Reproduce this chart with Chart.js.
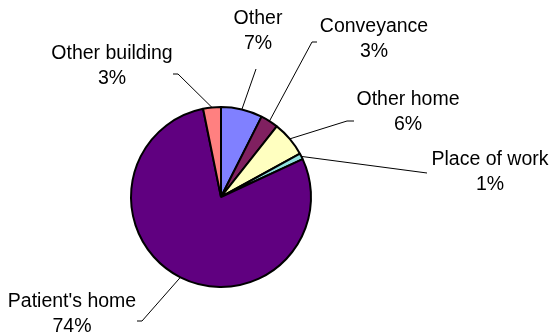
<!DOCTYPE html>
<html>
<head>
<meta charset="utf-8">
<script src="https://cdn.jsdelivr.net/npm/chart.js@4.4.1/dist/chart.umd.min.js"></script>
<style>
  html, body { margin: 0; padding: 0; background: #fff; }
  #wrap { position: relative; width: 553px; height: 335px; }
</style>
</head>
<body>
<div id="wrap"><canvas id="pie"></canvas></div>
<script>
// place where the incident happened, share in percent
const categories = ['Other', 'Conveyance', 'Other home', 'Place of work', "Patient's home", 'Other building'];
const shares = [7, 3, 6, 1, 74, 3];
const sliceColors = ['#8080ff', '#802060', '#ffffc0', '#90e0e0', '#600080', '#ff8080'];

// where each label sits: text centre x, first baseline y, elbow of the leader, hook end x
const labelSpots = [
  { tx: 258, ty: 24,  ex: 256, ey: 69,  hx: 256 },
  { tx: 374, ty: 32,  ex: 312, ey: 42,  hx: 317 },
  { tx: 408, ty: 105, ex: 347, ey: 121, hx: 354 },
  { tx: 490, ty: 165, ex: 427, ey: 173, hx: 427 },
  { tx: 72,  ty: 307, ex: 142, ey: 321, hx: 137 },
  { tx: 112, ty: 59,  ex: 178, ey: 74,  hx: 173 }
];

const outsideLabels = {
  id: 'outsideLabels',
  afterDatasetsDraw(chart) {
    const ctx = chart.ctx;
    const meta = chart.getDatasetMeta(0);
    ctx.save();
    ctx.font = '19.5px "Liberation Sans", Arial, sans-serif';
    ctx.textAlign = 'center';
    ctx.textBaseline = 'alphabetic';
    meta.data.forEach((arc, i) => {
      const p = arc.getProps(['x', 'y', 'startAngle', 'endAngle', 'outerRadius'], true);
      const mid = (p.startAngle + p.endAngle) / 2;
      const sx = p.x + Math.cos(mid) * p.outerRadius;
      const sy = p.y + Math.sin(mid) * p.outerRadius;
      const s = labelSpots[i];

      ctx.strokeStyle = '#000';
      ctx.lineWidth = 1;
      ctx.beginPath();
      ctx.moveTo(sx, sy);
      ctx.lineTo(s.ex, s.ey);
      ctx.lineTo(s.hx, s.ey);
      ctx.stroke();

      ctx.fillStyle = '#000';
      ctx.fillText(categories[i], s.tx, s.ty);
      ctx.fillText(shares[i] + '%', s.tx, s.ty + 25);
    });
    ctx.restore();
  }
};

new Chart(document.getElementById('pie'), {
  type: 'pie',
  data: {
    labels: categories,
    datasets: [{
      data: shares,
      backgroundColor: sliceColors,
      borderColor: '#000',
      borderWidth: 2,
      radius: 90
    }]
  },
  options: {
    responsive: true,
    maintainAspectRatio: false,
    animation: false,
    events: [],
    layout: { padding: { left: 0, right: 111, top: 59, bottom: 0 } },
    plugins: {
      legend: { display: false },
      tooltip: { enabled: false }
    }
  },
  plugins: [outsideLabels]
});
</script>
</body>
</html>
